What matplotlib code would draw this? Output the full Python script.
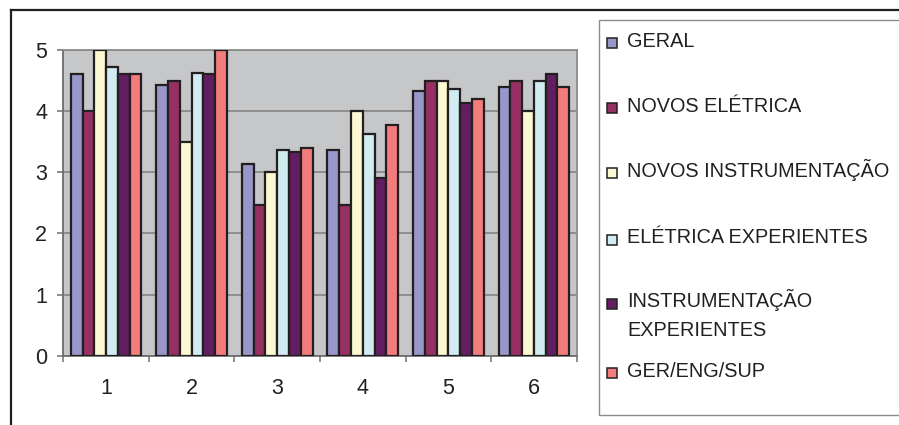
import numpy as np
import matplotlib
matplotlib.use("Agg")
import matplotlib.pyplot as plt
from matplotlib.patches import Rectangle
from matplotlib.lines import Line2D

plt.rcParams['font.family'] = ['Liberation Sans', 'DejaVu Sans']

categories = ["1", "2", "3", "4", "5", "6"]
series_names = [
    "GERAL",
    "NOVOS ELÉTRICA",
    "NOVOS INSTRUMENTAÇÃO",
    "ELÉTRICA EXPERIENTES",
    "INSTRUMENTAÇÃO\nEXPERIENTES",
    "GER/ENG/SUP",
]
geral = [4.6, 4.43, 3.13, 3.36, 4.33, 4.4]
novos_eletrica = [4.0, 4.5, 2.47, 2.47, 4.5, 4.5]
novos_instrumentacao = [5.0, 3.5, 3.0, 4.0, 4.5, 4.0]
eletrica_experientes = [4.73, 4.63, 3.36, 3.62, 4.37, 4.5]
instrumentacao_experientes = [4.6, 4.6, 3.33, 2.9, 4.14, 4.6]
ger_eng_sup = [4.6, 5.0, 3.4, 3.78, 4.2, 4.4]
series_values = [geral, novos_eletrica, novos_instrumentacao,
                 eletrica_experientes, instrumentacao_experientes, ger_eng_sup]
colors = ["#9797c9", "#973062", "#fbf8d2", "#d0ecf1", "#621e60", "#f37c7c"]

W, H = 899, 425
fig = plt.figure(figsize=(W / 100, H / 100), dpi=100)

def fx(px):
    return px / W

def fy(py):
    return 1 - py / H

ax = fig.add_axes([fx(63.3), fy(355.7), fx(576.7) - fx(63.3), fy(50) - fy(355.7)])
ax.set_facecolor("#c6c7c9")

n = len(series_values)
bar_w = 0.1375
x = np.arange(1, len(categories) + 1)
for i, (vals, col) in enumerate(zip(series_values, colors)):
    offs = (i - (n - 1) / 2) * bar_w
    ax.bar(x + offs, vals, width=bar_w, color=col, edgecolor="#231f20",
           linewidth=1.6, zorder=3)

ax.set_xlim(0.5, len(categories) + 0.5)
ax.set_ylim(0, 5)
ax.set_yticks([0, 1, 2, 3, 4, 5])
ax.yaxis.grid(True, color="#7f7f7f", linewidth=1.1, zorder=0)
ax.set_axisbelow(True)

ax.set_xticks(x)
ax.set_xticklabels(categories)
ax.set_xticks(np.arange(0.5, len(categories) + 1), minor=True)
ax.tick_params(axis="x", which="major", length=0, pad=16, labelsize=15.5,
               labelcolor="#231f20")
ax.tick_params(axis="x", which="minor", length=4.5, width=1.1, color="#6d6d6d",
               direction="out")
ax.tick_params(axis="y", length=4.5, width=1.1, color="#6d6d6d", pad=7,
               labelsize=15.5, labelcolor="#231f20")

for side in ["top", "right"]:
    ax.spines[side].set_color("#8c8c8c")
    ax.spines[side].set_linewidth(1.3)
for side in ["left", "bottom"]:
    ax.spines[side].set_color("#6d6d6d")
    ax.spines[side].set_linewidth(1.3)

# outer chart frame (left and top edges)
fig.add_artist(Line2D([fx(11), fx(11)], [fy(10), 0], color="#231f20",
                      linewidth=1.6, transform=fig.transFigure))
fig.add_artist(Line2D([fx(11), 1], [fy(10), fy(10)], color="#231f20",
                      linewidth=1.6, transform=fig.transFigure))

# legend box
fig.add_artist(Rectangle((fx(599), fy(415)), 1 - fx(599) + 0.01, fy(20) - fy(415),
                         transform=fig.transFigure, facecolor="white",
                         edgecolor="#8c8c8c", linewidth=1.0))
legend_baselines = [46.7, 111.7, 176.7, 243.3, 307.3, 376.7]
line_step = 28.7
for name, col, yb in zip(series_names, colors, legend_baselines):
    fig.add_artist(Rectangle((fx(607), fy(yb + 1.5)), fx(10), 10 / H,
                             transform=fig.transFigure, facecolor=col,
                             edgecolor="#231f20", linewidth=1.1))
    for k, line in enumerate(name.split("\n")):
        fig.text(fx(627), fy(yb + k * line_step), line, ha="left",
                 va="baseline", fontsize=14.3, color="#231f20")

fig.savefig("out.png", dpi=100)
